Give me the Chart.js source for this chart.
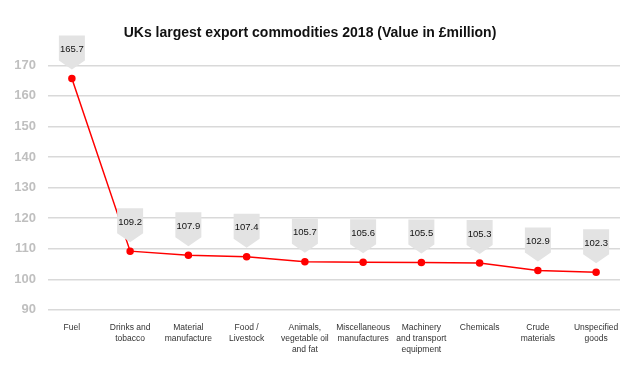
<!DOCTYPE html>
<html>
<head>
<meta charset="utf-8">
<script src="https://cdn.jsdelivr.net/npm/chart.js@4"></script>
<style>
html,body{margin:0;padding:0;background:#fff;}
#wrap{width:640px;height:387px;}
</style>
</head>
<body>
<div id="wrap"><canvas id="c" width="640" height="387"></canvas></div>
<script>
const categories = [
  ["Fuel"],
  ["Drinks and", "tobacco"],
  ["Material", "manufacture"],
  ["Food /", "Livestock"],
  ["Animals,", "vegetable oil", "and fat"],
  ["Miscellaneous", "manufactures"],
  ["Machinery", "and transport", "equipment"],
  ["Chemicals"],
  ["Crude", "materials"],
  ["Unspecified", "goods"]
];
const values = [165.7, 109.2, 107.9, 107.4, 105.7, 105.6, 105.5, 105.3, 102.9, 102.3];
const yTicks = [90, 100, 110, 120, 130, 140, 150, 160, 170];
const title = "UKs largest export commodities 2018 (Value in £million)";

const calloutPlugin = {
  id: 'callouts',
  afterDatasetsDraw(chart) {
    const ctx = chart.ctx;
    const meta = chart.getDatasetMeta(0);
    ctx.save();
    meta.data.forEach((pt, i) => {
      const x = pt.x, y = pt.y;
      const tip = y - 9;
      const w = 26, rectH = 25, triH = 9;
      const top = tip - triH - rectH;
      ctx.fillStyle = '#e3e3e3';
      ctx.beginPath();
      ctx.moveTo(x - w / 2, top);
      ctx.lineTo(x + w / 2, top);
      ctx.lineTo(x + w / 2, top + rectH);
      ctx.lineTo(x, tip);
      ctx.lineTo(x - w / 2, top + rectH);
      ctx.closePath();
      ctx.fill();
      ctx.fillStyle = '#111';
      ctx.font = '9.5px "Liberation Sans", Arial, sans-serif';
      ctx.textAlign = 'center';
      ctx.textBaseline = 'middle';
      ctx.fillText(values[i].toFixed(1), x, top + 14);
    });
    ctx.restore();
  }
};

new Chart(document.getElementById('c'), {
  type: 'line',
  data: {
    datasets: [{
      data: values.map((v, i) => ({ x: i, y: v })),
      borderColor: '#ff0000',
      backgroundColor: '#ff0000',
      borderWidth: 1.5,
      pointRadius: 3,
      pointBackgroundColor: '#ff0000',
      pointBorderColor: '#ff0000',
      tension: 0
    }]
  },
  options: {
    responsive: false,
    animation: false,
    layout: { padding: { left: 0, right: 20, top: 0, bottom: 28 } },
    plugins: {
      legend: { display: false },
      tooltip: { enabled: false },
      title: {
        display: true,
        text: title,
        color: '#111',
        font: { family: '"Liberation Sans", Arial, sans-serif', size: 14, weight: 'bold', lineHeight: 1.2 },
        padding: { top: 25, bottom: 23.5 }
      }
    },
    scales: {
      x: {
        type: 'linear',
        min: -0.41,
        max: 9.41,
        grid: { display: false },
        border: { display: false },
        afterBuildTicks(scale) {
          scale.ticks = categories.map((_, i) => ({ value: i }));
        },
        ticks: {
          autoSkip: false,
          maxRotation: 0,
          minRotation: 0,
          padding: 4,
          color: '#333',
          font: { family: '"Liberation Sans", Arial, sans-serif', size: 8.5, lineHeight: 1.3 },
          callback: (v) => categories[v]
        }
      },
      y: {
        min: 90,
        max: 170,
        afterBuildTicks(scale) {
          scale.ticks = yTicks.map(v => ({ value: v }));
        },
        afterFit(scale) { scale.width = 48; },
        grid: { color: '#d9d9d9', lineWidth: 1.5, drawTicks: false },
        border: { display: false },
        ticks: {
          padding: 12,
          color: '#bfbfbf',
          font: { family: '"Liberation Sans", Arial, sans-serif', size: 13, weight: 'bold' }
        }
      }
    }
  },
  plugins: [calloutPlugin]
});
</script>
</body>
</html>
